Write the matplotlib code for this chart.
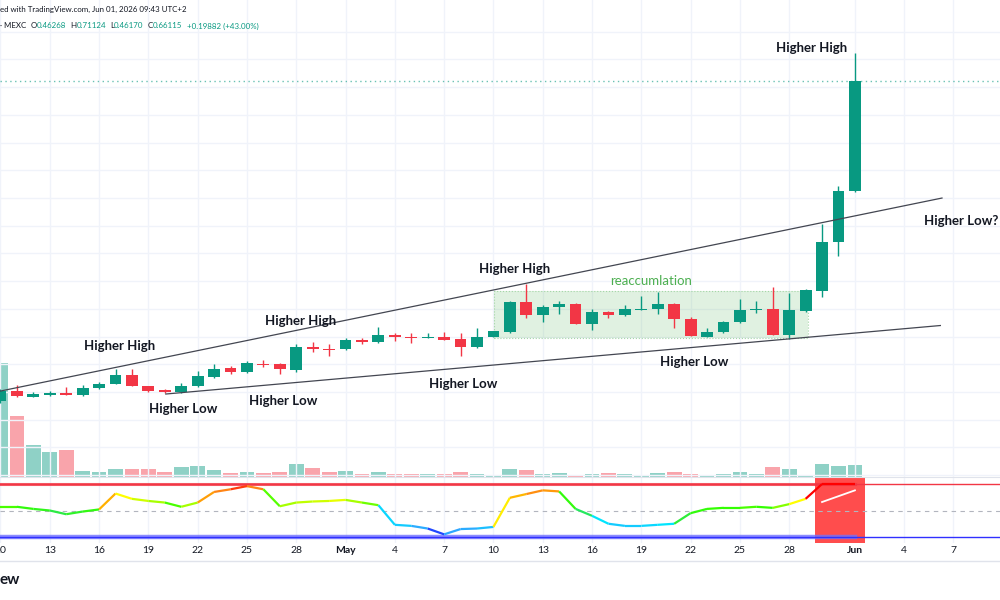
import numpy as np
import matplotlib.pyplot as plt
from matplotlib.collections import LineCollection
from matplotlib.colors import LinearSegmentedColormap
from matplotlib.patches import Rectangle
from matplotlib.lines import Line2D

plt.rcParams['font.family'] = ['Lato', 'DejaVu Sans']

# daily candles, Apr 10 .. Jun 01
days = np.arange(53)
opens = [0.0838, 0.1018, 0.0910, 0.0946, 0.0982, 0.0946, 0.1072, 0.1145, 0.1307, 0.1108,
         0.1036, 0.1000, 0.1108, 0.1271, 0.1433, 0.1361, 0.1514, 0.1505, 0.1397, 0.1812,
         0.1785, 0.1776, 0.1938, 0.1902, 0.2029, 0.1993, 0.1975, 0.1993, 0.1956, 0.1812,
         0.1993, 0.2083, 0.2624, 0.2390, 0.2534, 0.2588, 0.2227, 0.2444, 0.2390, 0.2480,
         0.2498, 0.2588, 0.2317, 0.1993, 0.2083, 0.2263, 0.2480, 0.2498, 0.2029, 0.2462,
         0.2822, 0.3707, 0.46268]
highs = [0.1054, 0.1126, 0.1000, 0.1018, 0.1090, 0.1126, 0.1181, 0.1415, 0.1415, 0.1115,
         0.1054, 0.1163, 0.1379, 0.1505, 0.1469, 0.1560, 0.1578, 0.1523, 0.1866, 0.1902,
         0.1866, 0.1975, 0.1975, 0.2173, 0.2065, 0.2065, 0.2065, 0.2083, 0.2065, 0.2155,
         0.2110, 0.2642, 0.2949, 0.2570, 0.2642, 0.2606, 0.2498, 0.2453, 0.2570, 0.2732,
         0.2804, 0.2606, 0.2353, 0.2155, 0.2281, 0.2678, 0.2642, 0.2895, 0.2786, 0.2850,
         0.4031, 0.4717, 0.71124]
lows = [0.0802, 0.0910, 0.0905, 0.0928, 0.0946, 0.0937, 0.1063, 0.1140, 0.1100, 0.1009,
        0.0982, 0.0982, 0.1090, 0.1262, 0.1325, 0.1343, 0.1451, 0.1325, 0.1361, 0.1722,
        0.1650, 0.1767, 0.1866, 0.1884, 0.1920, 0.1884, 0.1966, 0.1938, 0.1650, 0.1803,
        0.1984, 0.2074, 0.2335, 0.2263, 0.2408, 0.2220, 0.2119, 0.2335, 0.2372, 0.2471,
        0.2408, 0.2155, 0.2002, 0.1984, 0.2065, 0.2254, 0.2426, 0.2020, 0.1956, 0.2440,
        0.2714, 0.3454, 0.46170]
closes = [0.1018, 0.0928, 0.0964, 0.0982, 0.0955, 0.1072, 0.1145, 0.1307, 0.1108, 0.1018,
          0.1000, 0.1108, 0.1289, 0.1415, 0.1361, 0.1523, 0.1496, 0.1415, 0.1812, 0.1776,
          0.1767, 0.1938, 0.1902, 0.2029, 0.1993, 0.1975, 0.1993, 0.1947, 0.1812, 0.1993,
          0.2101, 0.2624, 0.2390, 0.2534, 0.2588, 0.2227, 0.2444, 0.2395, 0.2498, 0.2498,
          0.2588, 0.2317, 0.2011, 0.2083, 0.2263, 0.2480, 0.2498, 0.2029, 0.2480, 0.2841,
          0.3707, 0.4627, 0.66115]
volume = [11.4, 6.1, 3.2, 2.5, 2.7, 0.6, 0.5, 0.8, 0.8, 0.8, 0.5, 1.0, 1.1, 0.7, 0.4,
          0.5, 0.4, 0.5, 1.3, 0.9, 0.5, 0.6, 0.3, 0.5, 0.3, 0.3, 0.3, 0.3, 0.5, 0.3,
          0.2, 0.8, 0.7, 0.3, 0.4, 0.2, 0.3, 0.4, 0.3, 0.2, 0.4, 0.5, 0.3, 0.2, 0.3,
          0.5, 0.3, 1.0, 0.8, 0.2, 1.3, 1.1, 1.2]
osc = [57, 57, 53, 50, 43, 48, 52, 82, 72, 68, 65, 57, 65, 85, 90, 96, 90, 58, 65, 67,
       68, 70, 65, 60, 23, 21, 16, 5, 15, 16, 19, 74, 81, 88, 86, 53, 40, 25, 21, 21,
       23, 25, 45, 53, 55, 55, 57, 55, 62, 72, 100, 100, 100]
signal_days = [50, 51, 52]
signal = [66, 77, 88]
osc_upper = 100
osc_lower = 0

tick_days = [0, 3, 6, 9, 12, 15, 18, 21, 24, 27, 30, 33, 36, 39, 42, 45, 48, 52, 55, 58]
tick_labels = ['10', '13', '16', '19', '22', '25', '28', 'May', '4', '7', '10', '13',
               '16', '19', '22', '25', '28', 'Jun', '4', '7']

# drawings: (day, price) end points
upper_trend = [(0, 0.1018), (57.3, 0.4500)]
lower_trend = [(10.06, 0.0964), (57.2, 0.2200)]
range_box = (30.05, 49.12, 0.1980, 0.2828)
labels = [("Higher High", 7.24, 0.1830), ("Higher Low", 11.14, 0.0693),
          ("Higher Low", 17.22, 0.0838), ("Higher High", 18.26, 0.2281),
          ("Higher Low", 28.18, 0.1145), ("Higher High", 31.3, 0.3219),
          ("Higher Low", 42.24, 0.1541), ("Higher High", 49.36, 0.7207),
          ("Higher Low?", 58.49, 0.4086)]

UP = '#089981'
DN = '#F23645'
INK = '#131722'

fig = plt.figure(figsize=(10, 6), dpi=100)
ax = fig.add_axes([0, 0.205, 1, 0.795])
axv = ax.twinx()
ax.set_zorder(axv.get_zorder() + 1)
ax.patch.set_visible(False)
axo = fig.add_axes([0, 0.095, 1, 0.11], sharex=ax)

o = np.array(opens); c = np.array(closes)
cols = [UP if cc >= oo else DN for oo, cc in zip(o, c)]

# volume
axv.bar(days, volume, width=0.9, color=cols, alpha=0.45, linewidth=0)
axv.set_ylim(0, 47.7)
axv.axis('off')

# grid
for d in tick_days:
    ax.axvline(d, color='#F0F3FA', lw=1, zorder=0)
    axo.axvline(d, color='#F0F3FA', lw=1, zorder=0)
for p in np.arange(-0.05, 0.80, 0.05):
    ax.axhline(p, color='#F0F3FA', lw=1, zorder=0)

# candles
ax.vlines(days, lows, highs, colors=cols, lw=1, zorder=3)
ax.bar(days, np.maximum(np.abs(c - o), 0.0012), bottom=np.minimum(o, c), width=0.72,
       color=cols, linewidth=0, zorder=4)

ax.axhline(closes[-1], color=UP, lw=1, ls=(0, (1, 2.5)), alpha=0.6, zorder=2)

# drawings
(x0, y0), (x1, y1) = upper_trend
ax.plot([x0, x1], [y0, y1], color='#434651', lw=0.9, zorder=5)
(x0, y0), (x1, y1) = lower_trend
ax.plot([x0, x1], [y0, y1], color='#434651', lw=0.9, zorder=5)
bx0, bx1, by0, by1 = range_box
ax.add_patch(Rectangle((bx0, by0), bx1 - bx0, by1 - by0, facecolor='#4CAF50', alpha=0.17,
                       edgecolor='none', zorder=1))
ax.add_patch(Rectangle((bx0, by0), bx1 - bx0, by1 - by0, facecolor='none',
                       edgecolor='#A5D6A7', lw=0.8, ls=':', zorder=1))
ax.text(39.62, 0.3003, 'reaccumlation', color='#4CAF50', fontsize=9.5,
        ha='center', va='center', zorder=6)
for txt, x, y in labels:
    ax.text(x, y, txt, fontsize=9.5, fontweight='bold', color=INK,
            ha='center', va='center', zorder=6)

ax.set_xlim(-0.03, 60.83)
ax.set_ylim(-0.0533, 0.8073)
ax.axis('off')

# oscillator pane
cmap = LinearSegmentedColormap.from_list('osc', [
    (0.0, '#1A1AFF'), (0.15, '#2EA8FF'), (0.25, '#00E5FF'), (0.42, '#2BE84A'),
    (0.55, '#33FF00'), (0.65, '#A6FF00'), (0.72, '#FFFF00'), (0.82, '#FFB000'),
    (0.92, '#FF7A1A'), (1.0, '#FF0000')])
axo.axvspan(49.6, 52.6, color='#FF4D4D', lw=0, zorder=1)
axo.plot(days, [osc_upper] * len(days), color=DN, lw=2.2, alpha=0.8, zorder=2)
axo.axhline(osc_upper, color=DN, lw=1, zorder=2)
axo.plot(days, [osc_lower] * len(days), color='#7070FF', lw=3.2, alpha=0.8, zorder=2)
axo.axhline(osc_lower, color='#3030FF', lw=1, zorder=2)
axo.axhline(50, color='#B2B5BE', lw=0.8, ls=(0, (4, 4)), zorder=2)
pts = np.column_stack([days, osc])
segs = np.stack([pts[:-1], pts[1:]], axis=1)
lc = LineCollection(segs, colors=cmap(np.array(osc[1:]) / 100), lw=1.6, zorder=4)
axo.add_collection(lc)
axo.plot(signal_days, signal, color='white', lw=1.3, zorder=4)
axo.set_ylim(-11.3, 113.2)
axo.set_yticks([])
axo.set_xticks(tick_days, tick_labels)
axo.tick_params(axis='x', length=0, pad=2, labelsize=7.5, labelcolor=INK)
for lab in axo.get_xticklabels():
    if lab.get_text() in ('May', 'Jun'):
        lab.set_fontweight('bold')
for s in ['left', 'right', 'bottom']:
    axo.spines[s].set_visible(False)
axo.spines['top'].set_color('#E0E3EB')
axo.patch.set_visible(False)

fig.add_artist(Line2D([0, 1], [1 - 561 / 600] * 2, color='#E0E3EB', lw=1))

# header
fs = 5.7
fig.text(0, 1 - 9.5 / 600, 'ed with TradingView.com, Jun 01, 2026 09:43 UTC+2',
         fontsize=fs, color=INK, va='center')
header = [('O', INK, 3), ('0.46268', UP, 0), ('H', INK, 3), ('0.71124', UP, 0),
          ('L', INK, 3), ('0.46170', UP, 0), ('C', INK, 3), ('0.66115', UP, 0),
          ('+0.19882 (+43.00%)', UP, 3)]
prev = fig.text(0, 1 - 26 / 600, '· MEXC', fontsize=fs, color=INK, va='center')
for txt, col, gap in header:
    prev = fig.add_artist(plt.Annotation(txt, xy=(1, 0.5), xycoords=prev,
                                         xytext=(gap, 0), textcoords='offset points',
                                         fontsize=fs, color=col, va='center'))

fig.text(0, 1 - 580 / 600, 'ew', fontsize=11, fontweight='bold', color=INK,
         va='center')

fig.savefig('out.png', dpi=100, facecolor='white')
